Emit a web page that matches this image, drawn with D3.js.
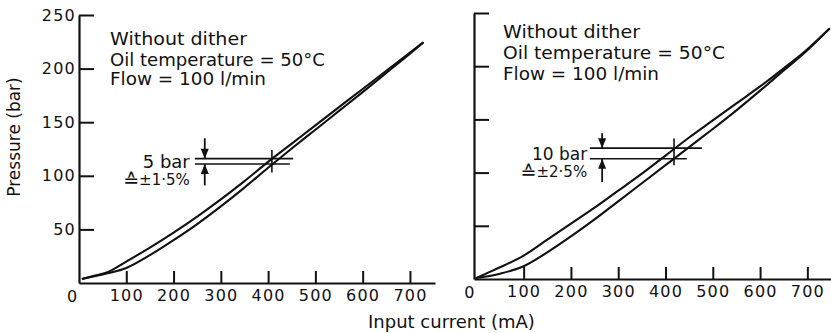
<!DOCTYPE html>
<html>
<head>
<meta charset="utf-8">
<script src="https://cdn.jsdelivr.net/npm/d3@7"></script>
<style>
  html, body { margin: 0; padding: 0; background: #fff; }
  svg { display: block; }
  text { font-family: "DejaVu Sans", sans-serif; fill: #111; }
</style>
</head>
<body>
<svg id="chart" width="831" height="333"></svg>
<script>
// Proportional valve: pressure vs input current, rising and falling branches (hysteresis)
const xTicks = [100, 200, 300, 400, 500, 600, 700];
const yTicks = [50, 100, 150, 200, 250];
const yTickLabels = ["50", "100", "150", "200", "250"];

const conditions = ["Without dither", "Oil temperature = 50°C", "Flow = 100 l/min"];

// Left panel
const leftCurrent = [8, 30, 60, 100, 150, 200, 250, 300, 350, 400, 450, 500, 550, 600, 650, 700, 727];
const leftRising  = [4, 6, 9, 14, 26, 40, 55, 71.5, 89, 107.5, 125.5, 143, 160.5, 178, 196, 214, 224];
const leftFalling = [4, 6.5, 10, 20, 33, 47, 62, 78, 95, 113, 130, 147, 164, 181, 198, 215, 224];
const leftBand = [111, 116];          // hysteresis band at the marked current (bar)
const leftBandCurrent = 408;
const leftBandLabel = "5 bar";
const leftBandPct = ["≙", "±1·5%"];

// Right panel
const rightCurrent = [0, 25, 50, 100, 150, 200, 250, 300, 350, 400, 450, 500, 550, 600, 650, 700, 746];
const rightRising  = [1, 2.5, 5, 12, 25, 40, 56, 73, 90, 107, 124, 141, 158.5, 177, 196, 215, 235];
const rightFalling = [1, 6, 11, 22, 37, 52, 67, 83, 99, 116, 133, 149, 165, 181, 198, 216, 235];
const rightBand = [113, 123];
const rightBandCurrent = 418;
const rightBandLabel = "10 bar";
const rightBandPct = ["≙", "±2·5%"];

const svg = d3.select("#chart");
const stroke = "#111";

const panels = [
  {
    x: d3.scaleLinear().domain([0, 753]).range([79, 435]),
    y: d3.scaleLinear().domain([0, 250]).range([283, 15]),
    current: leftCurrent, rising: leftRising, falling: leftFalling,
    band: leftBand, bandCurrent: leftBandCurrent,
    bandSpan: [[245, 453], [245, 446]], arrowAt: 266, arrowReach: [135, 91],
    tick: [103, 124],
    label: leftBandLabel, pct: leftBandPct,
    labelSize: 18, textX: 110, textY: [45, 65.5, 85], textLen: [137, 215, 156],
    showYLabels: true
  },
  {
    x: d3.scaleLinear().domain([-5, 750]).range([474, 831]),
    y: d3.scaleLinear().domain([0, 250]).range([279, 13]),
    current: rightCurrent, rising: rightRising, falling: rightFalling,
    band: rightBand, bandCurrent: rightBandCurrent,
    bandSpan: [[240, 477], [240, 445]], arrowAt: 266, arrowReach: [137, 91],
    tick: [107, 132],
    label: rightBandLabel, pct: rightBandPct,
    labelSize: 17, textX: 503, textY: [38, 59, 80], textLen: [137, 222, 156],
    showYLabels: false
  }
];

panels.forEach(p => {
  const g = svg.append("g");
  const x = p.x, y = p.y;
  const x0 = x.range()[0];

  // y axis: ticks point into the plot
  const yAxis = d3.axisLeft(y)
    .tickValues(yTicks)
    .tickSizeInner(-15)
    .tickSizeOuter(0)
    .tickPadding(3)
    .tickFormat((d, i) => p.showYLabels ? yTickLabels[i] : "");
  const ya = g.append("g").attr("transform", `translate(${x0},0)`).call(yAxis);

  // x axis
  const xAxis = d3.axisBottom(x)
    .tickValues(xTicks)
    .tickSizeInner(-12)
    .tickSizeOuter(0)
    .tickPadding(7);
  const xa = g.append("g").attr("transform", `translate(0,${y(0)})`).call(xAxis);

  [ya, xa].forEach(a => {
    a.select(".domain").attr("stroke", stroke).attr("stroke-width", 2.2);
    a.selectAll(".tick line").attr("stroke", stroke).attr("stroke-width", 2);
    a.selectAll(".tick text")
      .attr("font-size", 16).attr("letter-spacing", 1.2)
      .attr("font-family", "DejaVu Sans").attr("fill", "#111");
  });
  xa.selectAll(".tick text").attr("dy", "0.71em");

  // zero label of the current axis
  g.append("text")
    .attr("x", x(0) - 7).attr("y", y(0) + 19)
    .attr("text-anchor", "middle").attr("font-size", 16)
    .text("0");

  // curves
  const line = d3.line()
    .x(d => x(d[0])).y(d => y(d[1]))
    .curve(d3.curveMonotoneX);
  [p.rising, p.falling].forEach(series => {
    g.append("path")
      .datum(p.current.map((c, i) => [c, series[i]]))
      .attr("d", line)
      .attr("fill", "none")
      .attr("stroke", stroke)
      .attr("stroke-width", 2.1)
      .attr("stroke-linejoin", "round")
      .attr("stroke-linecap", "round");
  });

  // hysteresis band lines
  [p.band[1], p.band[0]].forEach((b, i) => {
    g.append("line")
      .attr("x1", x(p.bandSpan[i][0])).attr("x2", x(p.bandSpan[i][1]))
      .attr("y1", y(b)).attr("y2", y(b))
      .attr("stroke", stroke).attr("stroke-width", 1.6);
  });
  g.append("line")
    .attr("x1", x(p.bandCurrent)).attr("x2", x(p.bandCurrent))
    .attr("y1", y(p.tick[0])).attr("y2", y(p.tick[1]))
    .attr("stroke", stroke).attr("stroke-width", 1.6);

  // dimension arrows pointing at the band
  const ax = x(p.arrowAt);
  const arrow = (from, tip, dir) => {
    g.append("line")
      .attr("x1", ax).attr("x2", ax)
      .attr("y1", y(from)).attr("y2", y(tip))
      .attr("stroke", stroke).attr("stroke-width", 1.8);
    const ty = y(tip);
    g.append("path")
      .attr("d", `M${ax},${ty} L${ax - 4},${ty - dir * 10} L${ax + 4},${ty - dir * 10} Z`)
      .attr("fill", stroke);
  };
  arrow(p.arrowReach[0], p.band[1], 1);
  arrow(p.arrowReach[1], p.band[0], -1);

  // band labels
  const lx = x(p.arrowAt) - 15;
  const mid = y((p.band[0] + p.band[1]) / 2);
  g.append("text")
    .attr("x", lx).attr("y", mid + 6.5)
    .attr("text-anchor", "end").attr("font-size", p.labelSize)
    .text(p.label);
  const pct = g.append("text")
    .attr("x", lx).attr("y", mid + 24)
    .attr("text-anchor", "end").attr("font-size", 15);
  pct.append("tspan").attr("font-size", 19).attr("dy", 2).text(p.pct[0]);
  pct.append("tspan").attr("dy", -2).text(p.pct[1]);

  // operating conditions
  conditions.forEach((t, i) => {
    g.append("text")
      .attr("x", p.textX).attr("y", p.textY[i])
      .attr("font-size", 18)
      .attr("textLength", p.textLen[i]).attr("lengthAdjust", "spacingAndGlyphs")
      .text(t);
  });
});

// axis titles
svg.append("text")
  .attr("transform", "translate(20,137) rotate(-90)")
  .attr("text-anchor", "middle").attr("font-size", 17)
  .text("Pressure (bar)");
svg.append("text")
  .attr("x", 368).attr("y", 328)
  .attr("font-size", 18)
  .text("Input current (mA)");
</script>
</body>
</html>
